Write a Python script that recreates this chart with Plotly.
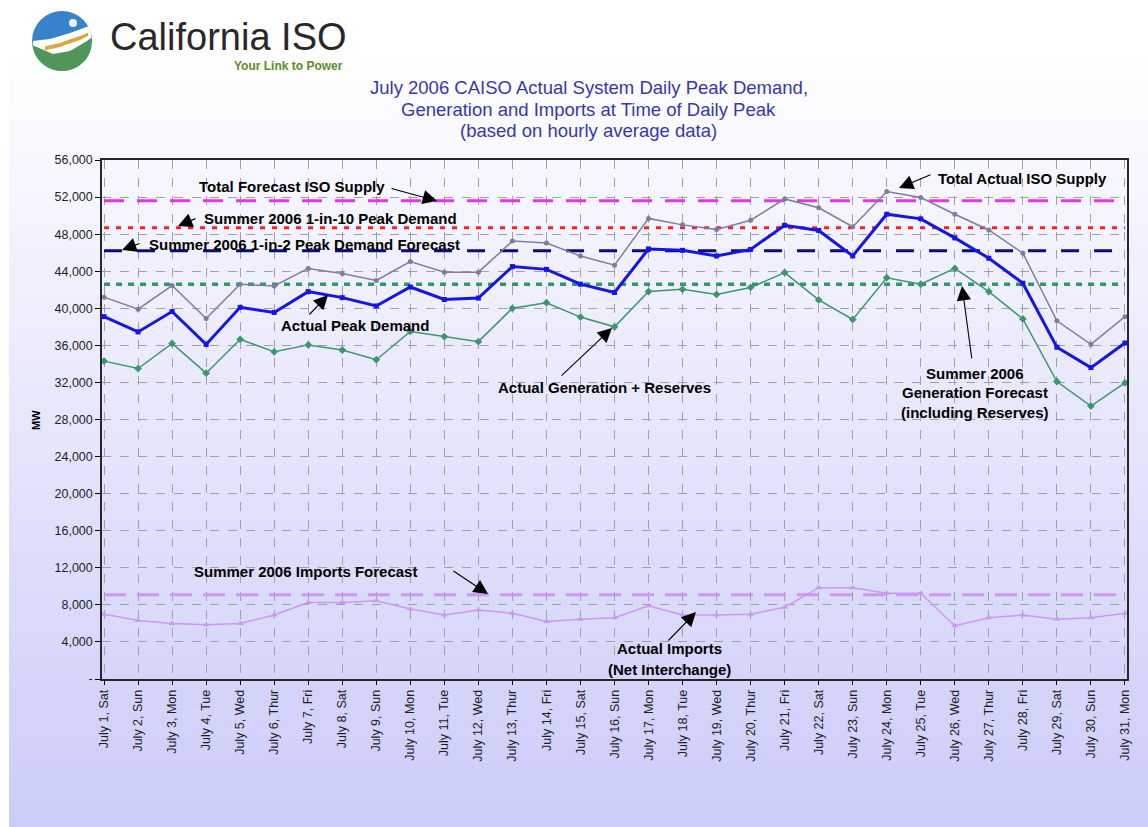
import numpy as np
import plotly.graph_objects as go

W, H = 1148, 827

# ---------------- data ----------------
day_labels = ["July 1, Sat", "July 2, Sun", "July 3, Mon", "July 4, Tue", "July 5, Wed",
              "July 6, Thur", "July 7, Fri", "July 8, Sat", "July 9, Sun", "July 10, Mon",
              "July 11, Tue", "July 12, Wed", "July 13, Thur", "July 14, Fri", "July 15, Sat",
              "July 16, Sun", "July 17, Mon", "July 18, Tue", "July 19, Wed", "July 20, Thur",
              "July 21, Fri", "July 22, Sat", "July 23, Sun", "July 24, Mon", "July 25, Tue",
              "July 26, Wed", "July 27, Thur", "July 28, Fri", "July 29, Sat", "July 30, Sun",
              "July 31, Mon"]

actual_peak_demand = [39100, 37450, 39650, 36100, 40100, 39550, 41800, 41150, 40250, 42300,
                      40950, 41100, 44500, 44200, 42600, 41700, 46400, 46250, 45650, 46350,
                      48950, 48400, 45650, 50150, 49650, 47600, 45400, 42700, 35800, 33600,
                      36250]
total_actual_supply = [41200, 39900, 42450, 38900, 42600, 42400, 44300, 43750, 43000, 45050,
                       43900, 43900, 47250, 47050, 45650, 44650, 49700, 49000, 48500, 49500,
                       51800, 50850, 48800, 52600, 51950, 50150, 48450, 45950, 38650, 36100,
                       39100]
actual_gen_reserves = [34300, 33500, 36200, 33000, 36650, 35300, 36050, 35500, 34450, 37500,
                       36950, 36400, 40000, 40600, 39050, 38000, 41800, 42050, 41500, 42250,
                       43850, 40900, 38800, 43300, 42600, 44300, 41800, 38850, 32100, 29450,
                       31950]
actual_imports = [7000, 6300, 6000, 5850, 6000, 6900, 8250, 8250, 8450, 7550,
                  6900, 7450, 7100, 6200, 6450, 6600, 7900, 6900, 6900, 7000,
                  7750, 9850, 9850, 9250, 9250, 5750, 6600, 6900, 6450, 6600,
                  7100]

forecast_iso_supply = 51600
peak_1_in_10 = 48700
peak_1_in_2 = 46200
gen_forecast = 42600
imports_forecast = 9100

y_tickvals = [0, 4000, 8000, 12000, 16000, 20000, 24000, 28000, 32000, 36000, 40000,
              44000, 48000, 52000, 56000]
y_ticktext = ["-", "4,000", "8,000", "12,000", "16,000", "20,000", "24,000", "28,000",
              "32,000", "36,000", "40,000", "44,000", "48,000", "52,000", "56,000"]

# ---------------- helpers (pixel -> paper) ----------------
def px(x):
    return x / W

def py(y):
    return 1 - y / H

FONT = "Liberation Sans, Arial, sans-serif"

fig = go.Figure()

n = len(day_labels)

def const_line(val, color, dash, width, name):
    fig.add_trace(go.Scatter(x=day_labels, y=[val] * n, mode="lines", name=name,
                             line=dict(color=color, dash=dash, width=width),
                             hoverinfo="skip"))

const_line(imports_forecast, "rgb(206,150,245)", "22px,11px", 3, "Summer 2006 Imports Forecast")
const_line(gen_forecast, "rgb(50,150,105)", "6px,6px", 3.5, "Summer 2006 Generation Forecast")
const_line(peak_1_in_2, "rgb(10,10,120)", "18px,15px", 3, "Summer 2006 1-in-2 Peak Demand Forecast")
const_line(peak_1_in_10, "rgb(250,30,30)", "5px,7px", 3, "Summer 2006 1-in-10 Peak Demand")
const_line(forecast_iso_supply, "rgb(235,50,235)", "20px,13px", 3, "Total Forecast ISO Supply")

fig.add_trace(go.Scatter(x=day_labels, y=actual_imports, mode="lines+markers",
                         name="Actual Imports",
                         line=dict(color="rgb(206,150,245)", width=1.5),
                         marker=dict(symbol="triangle-up", size=6, color="rgb(206,150,245)")))
fig.add_trace(go.Scatter(x=day_labels, y=actual_gen_reserves, mode="lines+markers",
                         name="Actual Generation + Reserves",
                         line=dict(color="rgb(60,150,110)", width=1.5),
                         marker=dict(symbol="diamond", size=6, color="rgb(60,150,110)")))
fig.add_trace(go.Scatter(x=day_labels, y=total_actual_supply, mode="lines+markers",
                         name="Total Actual ISO Supply",
                         line=dict(color="rgb(125,125,160)", width=1.5),
                         marker=dict(symbol="circle", size=5, color="rgb(125,125,160)")))
fig.add_trace(go.Scatter(x=day_labels, y=actual_peak_demand, mode="lines+markers",
                         name="Actual Peak Demand",
                         line=dict(color="rgb(20,20,235)", width=3),
                         marker=dict(symbol="square", size=5, color="rgb(20,20,235)")))

# ---------------- background gradient ----------------
shapes = []
y_top, y_bot = 55, 827
nb = 60
c0 = np.array([255, 255, 255])
c1 = np.array([204, 204, 250])
for i in range(nb):
    ya = y_top + (y_bot - y_top) * i / nb
    yb = y_top + (y_bot - y_top) * (i + 1) / nb
    t = (i + 0.5) / nb
    c = c0 + (c1 - c0) * t
    shapes.append(dict(type="rect", xref="paper", yref="paper", layer="below",
                       x0=px(9), x1=1, y0=py(yb + 0.6), y1=py(ya),
                       fillcolor=f"rgb({int(c[0])},{int(c[1])},{int(c[2])})",
                       line=dict(width=0)))

# ---------------- logo ----------------
cx, cy, R = 62, 41, 30

def region_path(top_xs, top_ys, bot_xs=None, bot_ys=None, x0=None, x1=None):
    x0 = cx - R if x0 is None else x0
    x1 = cx + R if x1 is None else x1
    upper, lower = [], []
    for x in np.linspace(x0, x1, 60):
        d = np.sqrt(max(R * R - (x - cx) ** 2, 0))
        yt = max(cy - d, np.interp(x, top_xs, top_ys))
        yb = cy + d
        if bot_xs is not None:
            yb = min(yb, np.interp(x, bot_xs, bot_ys))
        if yb > yt:
            upper.append((x, yt))
            lower.append((x, yb))
    pts = upper + lower[::-1]
    return "M " + " L ".join(f"{px(a):.5f},{py(b):.5f}" for a, b in pts) + " Z"

shapes.append(dict(type="circle", xref="paper", yref="paper", layer="above",
                   x0=px(cx - R), x1=px(cx + R), y0=py(cy + R), y1=py(cy - R),
                   fillcolor="rgb(55,130,200)", line=dict(width=0)))
shapes.append(dict(type="path", xref="paper", yref="paper", layer="above",
                   path=region_path([32, 50, 70, 92], [41, 39, 33, 25]),
                   fillcolor="white", line=dict(width=0)))
shapes.append(dict(type="path", xref="paper", yref="paper", layer="above",
                   path=region_path([42, 60, 80, 92], [47, 43, 36, 31],
                                    [42, 60, 80, 92], [51, 47, 40, 34], 45, 88),
                   fillcolor="rgb(222,165,60)", line=dict(width=0)))
shapes.append(dict(type="path", xref="paper", yref="paper", layer="above",
                   path=region_path([32, 53, 70, 87, 92], [45, 54, 51, 41, 37]),
                   fillcolor="rgb(80,150,90)", line=dict(width=0)))
shapes.append(dict(type="circle", xref="paper", yref="paper", layer="above",
                   x0=px(69), x1=px(77), y0=py(27), y1=py(19),
                   fillcolor="rgba(255,255,255,0.9)", line=dict(width=0)))

fig.update_layout(shapes=shapes)

# ---------------- annotations ----------------
ann = []

def text(t, x, y, size=15, bold=True, color="black", xanchor="center"):
    ann.append(dict(x=px(x), y=py(y), xref="paper", yref="paper",
                    text=f"<b>{t}</b>" if bold else t, showarrow=False,
                    xanchor=xanchor, yanchor="middle",
                    font=dict(family=FONT, size=size, color=color)))

def arrow(tx, ty, hx, hy):
    ann.append(dict(x=px(hx), y=py(hy), xref="paper", yref="paper",
                    ax=tx - hx, ay=ty - hy, axref="pixel", ayref="pixel",
                    text="", showarrow=True, arrowhead=2, arrowsize=2.6,
                    arrowwidth=1.1, arrowcolor="black", standoff=0, startstandoff=0))

# logo text
text("California ISO", 108, 37, size=38, bold=False, color="rgb(40,40,40)", xanchor="left")
text("Your Link to Power", 288, 66, size=12, bold=True, color="rgb(90,140,40)")

# title
tcol = "rgb(55,55,175)"
text("July 2006 CAISO Actual System Daily Peak Demand,", 589, 88, size=18.5, bold=False, color=tcol)
text("Generation and Imports at Time of Daily Peak", 589, 110, size=18.5, bold=False, color=tcol)
text("(based on hourly average data)", 589, 131, size=18.5, bold=False, color=tcol)

# chart labels
text("Total Forecast ISO Supply", 292, 186)
arrow(390, 188, 437, 201)
text("Summer 2006 1-in-10 Peak Demand", 330, 219)
arrow(197, 218, 178, 226)
text("Summer 2006 1-in-2 Peak Demand Forecast", 304, 245)
arrow(141, 243, 122, 250)
text("Total Actual ISO Supply", 1022, 178)
arrow(932, 174, 899, 188)
text("Actual Peak Demand", 355, 325)
arrow(308, 316, 328, 295)
text("Actual Generation + Reserves", 605, 387)
arrow(560, 377, 612, 328)
text("Summer 2006", 975, 373)
text("Generation Forecast", 975, 392)
text("(including Reserves)", 975, 412)
arrow(972, 360, 962, 286)
text("Summer 2006 Imports Forecast", 305, 571)
arrow(452, 570, 488, 594)
text("Actual Imports", 669, 648)
text("(Net Interchange)", 669, 669)
arrow(667, 642, 696, 612)
# y-axis title
ann.append(dict(x=px(28), y=py(420), xref="paper", yref="paper", text="<b>MW</b>",
                showarrow=False, textangle=-90, font=dict(family=FONT, size=11, color="black")))

fig.update_layout(annotations=ann)

# ---------------- axes / layout ----------------
fig.update_layout(
    width=W, height=H,
    margin=dict(l=0, r=0, t=0, b=0),
    paper_bgcolor="white",
    plot_bgcolor="rgba(0,0,0,0)",
    showlegend=False,
    font=dict(family=FONT, color="black"),
    xaxis=dict(domain=[px(102), px(1127)], type="category",
               range=[-0.06, n - 1 + 0.06],
               tickangle=-90, tickfont=dict(size=12.5, color="rgb(30,30,30)"),
               ticks="outside", ticklen=4, tickcolor="black",
               showgrid=True, gridcolor="rgb(160,160,170)", griddash="dash", gridwidth=1,
               showline=True, linecolor="rgb(40,40,40)", linewidth=1.5, mirror=True,
               zeroline=False, automargin=False),
    yaxis=dict(domain=[py(679), py(160)], range=[0, 56000],
               tickvals=y_tickvals, ticktext=y_ticktext,
               tickfont=dict(size=12.5, color="rgb(30,30,30)"),
               ticks="outside", ticklen=5, tickcolor="black",
               showgrid=True, gridcolor="rgb(160,160,170)", griddash="dash", gridwidth=1,
               showline=True, linecolor="rgb(40,40,40)", linewidth=1.5, mirror=True,
               zeroline=False, automargin=False),
)

fig.write_html("out.html", config={"displayModeBar": False},
               post_script="document.body.style.margin='0px';")
